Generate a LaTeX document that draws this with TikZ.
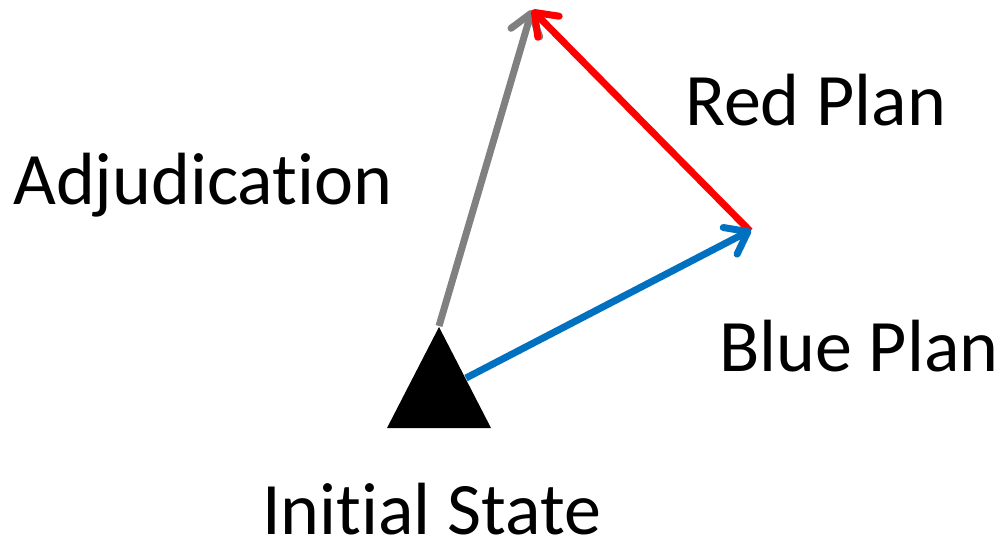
\documentclass[tikz,border=0pt]{standalone}
\usepackage{fontspec}
\setmainfont{Carlito}[Ligatures=NoCommon]
\usetikzlibrary{arrows.meta}
\definecolor{plangray}{RGB}{128,128,128}
\definecolor{planred}{RGB}{255,0,0}
\definecolor{planblue}{RGB}{0,112,192}
\tikzset{
  vec/.style={line width=7pt, -{Straight Barb[length=20pt, width=30pt, round]}},
  lbl/.style={inner sep=0pt, anchor=base west, font=\fontsize{74}{80}\selectfont},
}
\begin{document}
\begin{tikzpicture}[x=1pt, y=-1pt]
\useasboundingbox (0,0) rectangle (1003,541);
\coordinate (apex) at (439,327);
\coordinate (bl) at (387,428);
\coordinate (br) at (491,428);
\fill[black] (apex) -- (bl) -- (br) -- cycle;
\coordinate (gs) at (439,326);
\coordinate (top) at (532,10);
\coordinate (bs) at (466,378);
\coordinate (right) at (751,230);
\coordinate (rs) at (750,231);
\draw[vec, plangray] (gs) -- (top);
\draw[vec, planred] (rs) -- (top);
\draw[vec, planblue] (bs) -- (right);
\node[lbl] (adj) at (13,204) {Adjudication};
\node[lbl] (red) at (685,125) {Red Plan};
\node[lbl] (blue) at (719,371) {Blue Plan};
\node[lbl] (init) at (262,534) {Initial State};
\end{tikzpicture}
\end{document}
